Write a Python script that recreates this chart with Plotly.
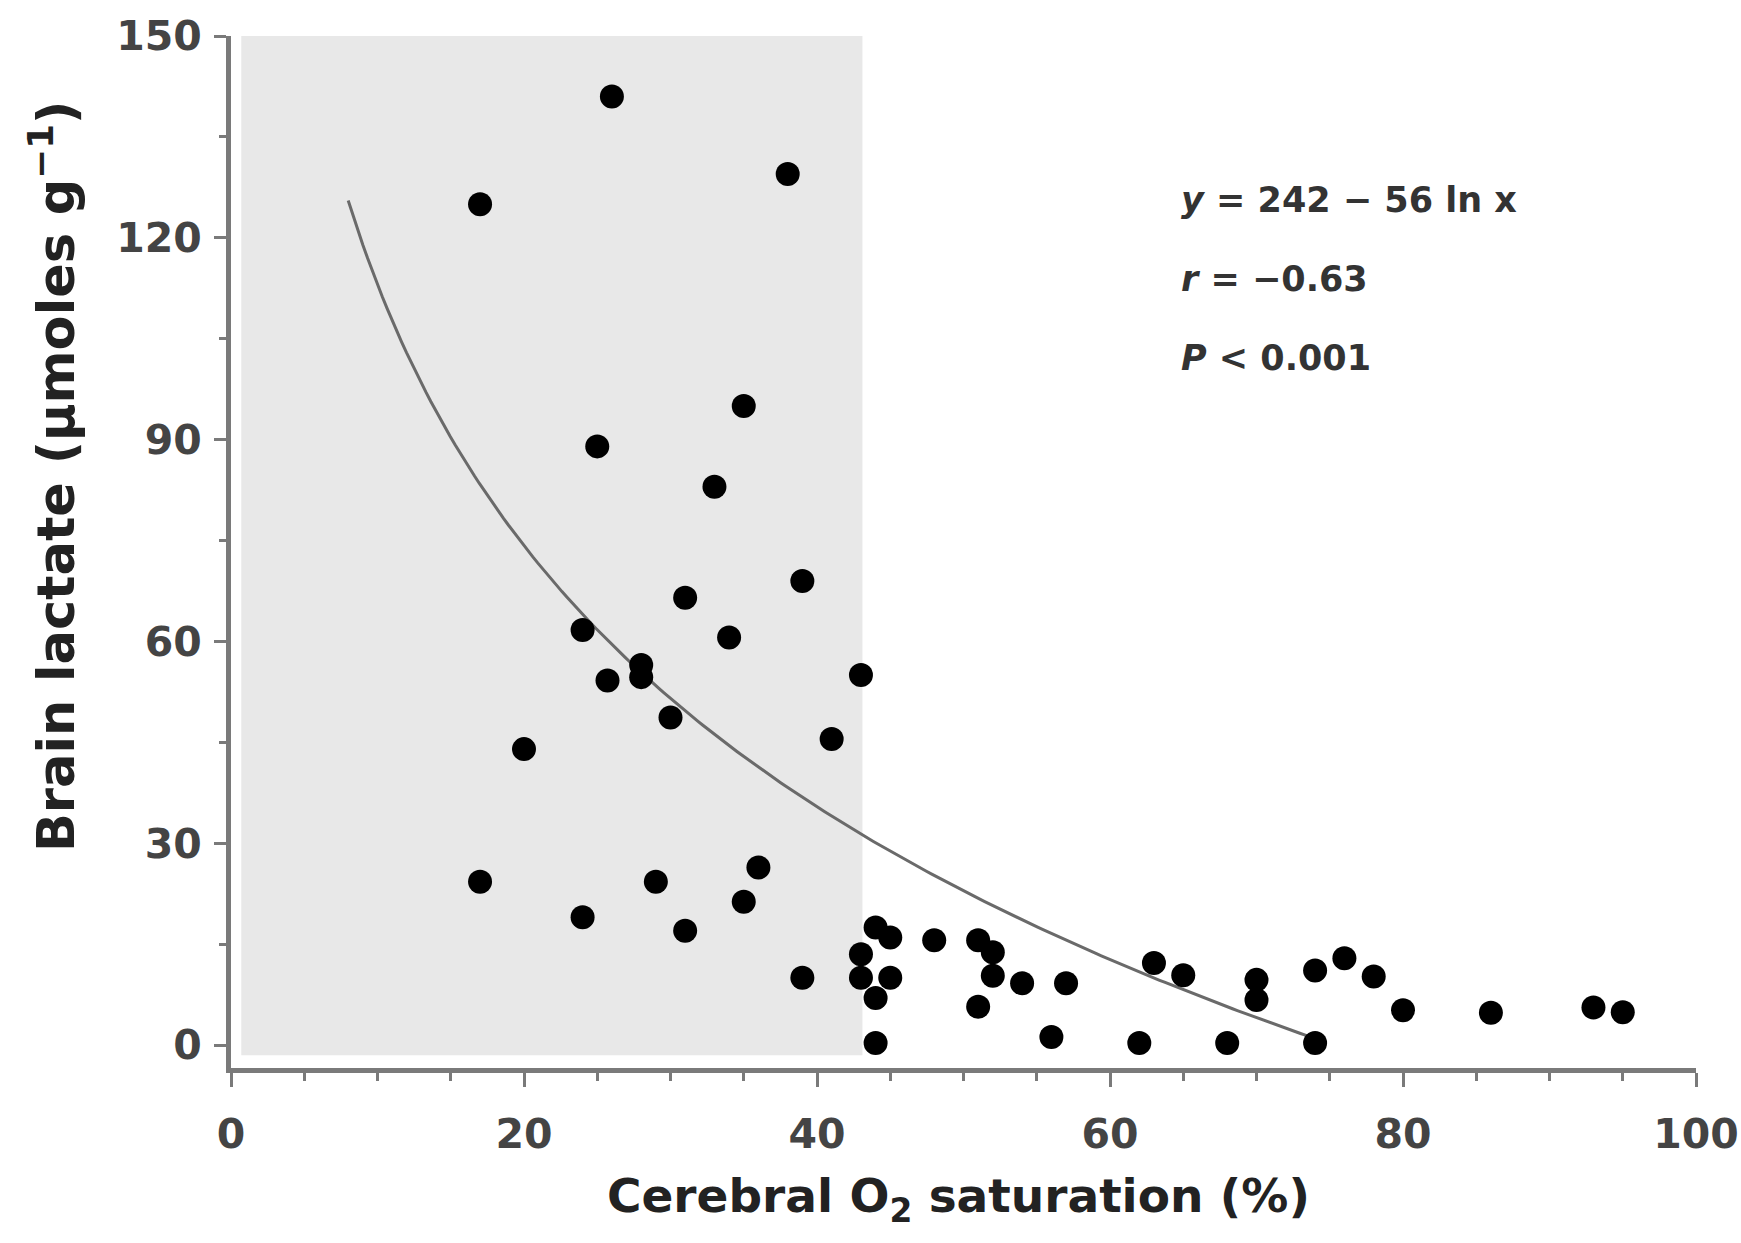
import numpy as np
import plotly.graph_objects as go

# Cerebral O2 saturation (%) and brain lactate (µmol/g)
sat = [26, 38, 17, 35, 25, 33, 39, 31, 24, 34, 28, 25.7, 28, 43, 30, 41, 20,
       36, 17, 29, 35, 24, 31, 39, 44,
       44, 45, 43, 43, 45, 44,
       48, 51, 52, 52, 51, 54, 57, 56,
       62, 63, 65, 68, 70, 70, 74, 74, 76, 78, 80, 86, 93, 95]
lactate = [141, 129.5, 125, 95, 89, 83, 69, 66.5, 61.7, 60.6, 56.5, 54.2, 54.7, 55, 48.7, 45.5, 44,
           26.4, 24.3, 24.3, 21.3, 19, 17, 10, 0.3,
           17.5, 16, 13.5, 10, 10, 7,
           15.6, 15.6, 13.8, 10.3, 5.7, 9.2, 9.2, 1.2,
           0.3, 12.2, 10.4, 0.3, 9.7, 6.7, 0.3, 11.1, 12.9, 10.2, 5.2, 4.8, 5.6, 4.9]

fit_a, fit_b = 242, 56
fit_x = np.linspace(8, 74, 200)
fit_y = fit_a - fit_b * np.log(fit_x)

stats = ["<i>y</i> = 242 \u2212 56 ln x", "<i>r</i> = \u22120.63", "<i>P</i> < 0.001"]
x_title = "Cerebral O<sub>2</sub> saturation (%)"
y_title = "Brain lactate (\u03bcmoles g<sup>\u22121</sup>)"
shade_x = (0.7, 43.1)

FONT = "DejaVu Sans"
AX = "#7a7a7a"

W, H = 1741, 1243
ml, mr, mt, mb = 231, 45, 36, 175


def px2paper(px, py):
    return (px - ml) / (W - ml - mr), 1 - (py - mt) / (H - mt - mb)


fig = go.Figure()
fig.add_shape(type="rect", xref="x", yref="y", x0=shade_x[0], x1=shade_x[1], y0=-1.5, y1=150,
              fillcolor="#e8e8e8", line_width=0, layer="below")
fig.add_trace(go.Scatter(x=fit_x, y=fit_y, mode="lines",
                         line=dict(color="#6a6a6a", width=3), showlegend=False))
fig.add_trace(go.Scatter(x=sat, y=lactate, mode="markers",
                         marker=dict(color="black", size=24, line_width=0), showlegend=False))

for i, t in enumerate(stats):
    ax_, ay_ = px2paper(1179, 200 + i * 79)
    fig.add_annotation(x=ax_, y=ay_, xref="paper", yref="paper", text=t,
                       showarrow=False, xanchor="left", yanchor="middle",
                       font=dict(family=FONT, size=35, color="#333", weight="bold"))

tx, ty = px2paper(958, 1199)
fig.add_annotation(x=tx, y=ty, xref="paper", yref="paper", text=x_title, showarrow=False,
                   xanchor="center", yanchor="middle",
                   font=dict(family=FONT, size=47, color="#222", weight="bold"))
tx, ty = px2paper(53, 477)
fig.add_annotation(x=tx, y=ty, xref="paper", yref="paper", text=y_title, showarrow=False,
                   xanchor="center", yanchor="middle", textangle=-90,
                   font=dict(family=FONT, size=51, color="#222", weight="bold"))

tick_font = dict(family=FONT, size=41, color="#444", weight="bold")
fig.update_layout(
    width=W, height=H, margin=dict(l=ml, r=mr, t=mt, b=mb, autoexpand=False),
    plot_bgcolor="white", paper_bgcolor="white",
    font=dict(family=FONT, color="#333"),
    xaxis=dict(range=[0, 100], tickvals=[0, 20, 40, 60, 80, 100], showgrid=False, zeroline=False,
               showline=True, linecolor=AX, linewidth=5, ticks="outside", ticklen=14, tickwidth=3,
               tickcolor=AX, tickfont=tick_font, ticklabelstandoff=12, automargin=False,
               minor=dict(dtick=5, ticks="outside", ticklen=8, tickwidth=3, tickcolor=AX)),
    yaxis=dict(range=[-3.4, 150], tickvals=[0, 30, 60, 90, 120, 150], showgrid=False, zeroline=False,
               showline=True, linecolor=AX, linewidth=5, ticks="outside", ticklen=12, tickwidth=3,
               tickcolor=AX, tickfont=tick_font, ticklabelstandoff=4, automargin=False,
               minor=dict(tickvals=[15, 45, 75, 105, 135], ticks="outside", ticklen=7, tickwidth=3, tickcolor=AX)),
)
# remove the default page margin so the figure fills the window exactly
fig.write_html("out.html", config={"displayModeBar": False},
               post_script="document.body.style.margin='0';document.body.style.overflow='hidden';")
